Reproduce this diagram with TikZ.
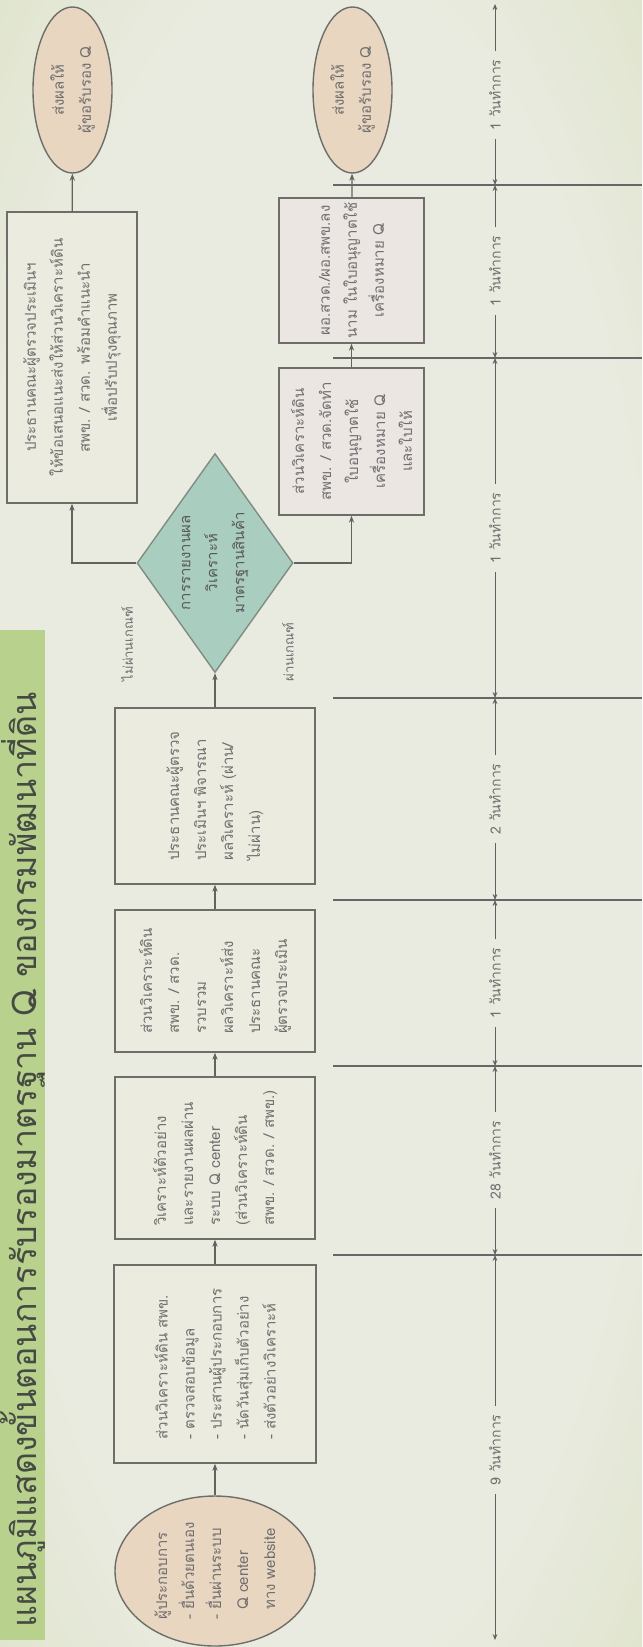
\documentclass[tikz,border=0pt]{standalone}
\usepackage{fontspec}
\newfontfamily\thaifont[Script=Thai]{Loma}
\usetikzlibrary{shapes.geometric,arrows.meta}

\definecolor{bgpale}{HTML}{E9EBE0}
\definecolor{bggreen}{HTML}{D3DCB2}
\definecolor{band}{HTML}{B8D18D}
\definecolor{boxfill}{HTML}{EBEBDF}
\definecolor{pinkfill}{HTML}{ECE6E3}
\definecolor{tanfill}{HTML}{E9D6C1}
\definecolor{tealfill}{HTML}{A9CEC0}
\definecolor{edge}{HTML}{6E6E68}
\definecolor{txt}{HTML}{6F6F6F}
\definecolor{headtxt}{HTML}{454A42}

\pgfdeclareradialshading{paper}{\pgfpoint{0bp}{0bp}}{color(0bp)=(bgpale); color(26bp)=(bgpale); color(50bp)=(bggreen); color(72bp)=(bggreen)}

\tikzset{
  boxtext/.style={font=\thaifont\fontsize{7.5}{13.5}\selectfont, text=txt},
  stepbox/.style={rectangle, rotate=90, draw=edge, line width=0.7pt, fill=boxfill, inner sep=2pt, boxtext},
  endcap/.style={ellipse, rotate=90, draw=edge, line width=0.7pt, fill=tanfill, inner sep=0pt, boxtext, align=center},
  decision/.style={diamond, rotate=90, aspect=1.4, draw=edge!70!tealfill, line width=0.7pt, fill=tealfill, inner sep=0pt, boxtext, text=txt!80!black, align=center},
  flow/.style={draw=edge!90!black, line width=0.6pt, -{Stealth[length=3.5pt,width=2.6pt]}},
  branchnote/.style={rotate=90, font=\thaifont\fontsize{6.5}{8}\selectfont, text=txt},
  daylabel/.style={rotate=90, font=\thaifont\fontsize{7}{8}\selectfont, text=txt, inner sep=4pt},
  daysline/.style={draw=gray!75!black, line width=0.5pt, -{Stealth[length=3pt,width=2.4pt]}},
  ruling/.style={draw=gray!80!black, line width=0.6pt},
  heading/.style={rotate=90, font=\thaifont\fontsize{17}{20}\selectfont, text=headtxt}
}

\begin{document}
\begin{tikzpicture}[x=0.5pt,y=-0.5pt]
\useasboundingbox (0,0) rectangle (642,1647);
% paper and title band
\shade[shading=paper] (0,0) rectangle (642,1647);
\fill[band] (0,630) rectangle (45,1640);
\node[heading] (title) at (23,1160) {แผนภูมิแสดงขั้นตอนการรับรองมาตรฐาน Q ของกรมพัฒนาที่ดิน};

% main column
\node[endcap, minimum width=75pt, minimum height=100pt, align=left] (applicant) at (215,1571)
  {ผู้ประกอบการ\\- ยื่นด้วยตนเอง\\- ยื่นผ่านระบบ\\\phantom{- }Q center\\\phantom{- }ทาง website};
\node[stepbox, minimum width=99pt, minimum height=101pt, align=left] (collect) at (215,1364)
  {ส่วนวิเคราะห์ดิน สพข.\\- ตรวจสอบข้อมูล\\- ประสานผู้ประกอบการ\\- นัดวันสุ่มเก็บตัวอย่าง\\- ส่งตัวอย่างวิเคราะห์};
\node[stepbox, minimum width=81pt, minimum height=100pt, align=left] (analyse) at (215,1158)
  {วิเคราะห์ตัวอย่าง\\และรายงานผลผ่าน\\ระบบ Q center\\(ส่วนวิเคราะห์ดิน\\สพข. / สวด. / สพข.)};
\node[stepbox, minimum width=71pt, minimum height=100pt, align=left] (gather) at (215,981)
  {ส่วนวิเคราะห์ดิน\\สพข. / สวด.\\รวบรวม\\ผลวิเคราะห์ส่ง\\ประธานคณะ\\ผู้ตรวจประเมิน};
\node[stepbox, minimum width=88pt, minimum height=100pt, align=left] (review) at (215,796)
  {ประธานคณะผู้ตรวจ\\ประเมินฯ พิจารณา\\ผลวิเคราะห์ (ผ่าน/\\ไม่ผ่าน)};
\node[decision, minimum width=109.5pt, minimum height=78pt] (check) at (215,563)
  {การรายงานผล\\วิเคราะห์\\มาตรฐานสินค้า};

% not passed
\node[stepbox, minimum width=145.5pt, minimum height=65pt, align=center] (revise) at (72,357.5)
  {ประธานคณะผู้ตรวจประเมินฯ\\ให้ข้อเสนอแนะส่งให้ส่วนวิเคราะห์ดิน\\สพข. / สวด. พร้อมคำแนะนำ\\เพื่อปรับปรุงคุณภาพ};
\node[endcap, minimum width=83pt, minimum height=39.5pt] (notifyA) at (72.5,90) {ส่งผลให้\\ผู้ขอรับรอง Q};

% passed
\node[stepbox, fill=pinkfill, minimum width=73.5pt, minimum height=72.5pt, align=center] (permit) at (351.5,441.5)
  {ส่วนวิเคราะห์ดิน\\สพข. / สวด.จัดทำ\\ใบอนุญาตใช้\\เครื่องหมาย Q\\และใบให้};
\node[stepbox, fill=pinkfill, minimum width=72.5pt, minimum height=72.5pt, align=center] (sign) at (351.5,270.5)
  {ผอ.สวด./ผอ.สพข.ลง\\นาม ในใบอนุญาตใช้\\เครื่องหมาย Q};
\node[endcap, minimum width=83pt, minimum height=39.5pt] (notifyB) at (352.5,90) {ส่งผลให้\\ผู้ขอรับรอง Q};

\draw[flow] (applicant) -- (collect);
\draw[flow] (collect) -- (analyse);
\draw[flow] (analyse) -- (gather);
\draw[flow] (gather) -- (review);
\draw[flow] (review) -- (check);
\draw[flow] (check.north) -| (revise.west);
\draw[flow] (check.south) -| (permit.west);
\draw[flow] (revise) -- (notifyA);
\draw[flow] (permit) -- (sign);
\draw[flow] (sign) -- (notifyB);

\node[branchnote] (fail) at (127,644) {ไม่ผ่านเกณฑ์};
\node[branchnote] (pass) at (288,652) {ผ่านเกณฑ์};

% working days
\foreach \y in {185,358,698,900,1066,1255}
  \draw[ruling] (333,\y) -- (642,\y);
\foreach \i/\y in {0/4,1/185,2/358,3/698,4/900,5/1066,6/1255,7/1640}
  \coordinate (t\i) at (495,\y);
\foreach \i/\y/\d in {1/95/1,2/271/1,3/528/1,4/799/2,5/983/1,6/1160/28,7/1450/9}
  \node[daylabel] (d\i) at (495,\y) {\d\ วันทำการ};
\foreach \i [count=\j from 0] in {1,...,7} {
  \draw[daysline] (d\i) -- (t\j);
  \draw[daysline] (d\i) -- (t\i);
}
\end{tikzpicture}
\end{document}
